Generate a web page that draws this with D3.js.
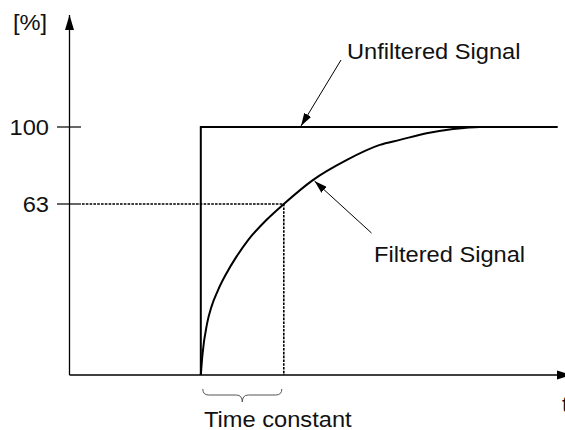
<!DOCTYPE html>
<html><head><meta charset="utf-8">
<script src="https://cdn.jsdelivr.net/npm/d3@7"></script>
<style>
html,body{margin:0;padding:0;background:#fff;}
svg{display:block;}
text{font-family:"Liberation Sans",Arial,sans-serif;fill:#111;}
</style></head>
<body>
<svg id="c" width="565" height="430"></svg>
<script>
// ---- data (time in units of the time constant, signal in %) ----
const unfilteredT = [0, 0, 4.3];
const unfilteredV = [0, 100, 100];
const filteredT = [0, 0.020, 0.076, 0.129, 0.208, 0.310, 0.430, 0.570, 0.79, 1.0, 1.35, 1.755, 2.157, 2.398, 2.72, 3.04, 3.36, 3.55];
const filteredV = [0, 7.5, 19.0, 25.2, 31.3, 37.5, 43.6, 49.7, 57.1, 63, 74.5, 84.1, 91.4, 93.8, 97.0, 99.0, 100, 100];
const yTickValues = [63, 100];
const yTickLabels = ["63", "100"];
const timeConstant = 1;
const labels = {yUnit: "[%]", xUnit: "t", unfiltered: "Unfiltered Signal", filtered: "Filtered Signal", tau: "Time constant"};

const svg = d3.select("#c");
const x = d3.scaleLinear().domain([-1.6, 4.4]).range([68, 566]);
const y = d3.scaleLinear().domain([0, 63, 100]).range([375, 204, 127]);
const SX = 1.1;
const FS = 21.5;

const defs = svg.append("defs");
defs.append("marker").attr("id","axArrow").attr("viewBox","0 0 15 10").attr("refX",15).attr("refY",5)
  .attr("markerWidth",15).attr("markerHeight",10).attr("markerUnits","userSpaceOnUse").attr("orient","auto")
  .append("path").attr("d","M0,0.5 L15,5 L0,9.5 Z").attr("fill","#000");
defs.append("marker").attr("id","thinArrow").attr("viewBox","0 0 13 8").attr("refX",13).attr("refY",4)
  .attr("markerWidth",13).attr("markerHeight",8).attr("markerUnits","userSpaceOnUse").attr("orient","auto")
  .append("path").attr("d","M0,0 L13,4 L0,8 Z").attr("fill","#000");

function txt(s, px, py, anchor) {
  return svg.append("text").text(s)
    .attr("transform", `translate(${px},${py}) scale(${SX},1)`)
    .attr("text-anchor", anchor || "start")
    .attr("font-size", FS);
}

// axes
svg.append("line").attr("x1", 69.5).attr("y1", y(0)).attr("x2", 69.5).attr("y2", 15)
  .attr("stroke","#000").attr("stroke-width",1.3).attr("marker-end","url(#axArrow)");
svg.append("line").attr("x1", 69.5).attr("y1", y(0)).attr("x2", 572).attr("y2", y(0))
  .attr("stroke","#000").attr("stroke-width",1.3).attr("marker-end","url(#axArrow)");

// y ticks and labels
svg.selectAll("line.tick").data(yTickValues).join("line").attr("class","tick")
  .attr("x1",57).attr("x2",81).attr("y1",d=>y(d)).attr("y2",d=>y(d))
  .attr("stroke","#000").attr("stroke-width",1.2);
yTickValues.forEach((v,i)=> txt(yTickLabels[i], 49, y(v)+7.5, "end"));
txt(labels.yUnit, 13, 29.5, "start");
txt(labels.xUnit, 562, 412, "start");

// dotted guides at time constant
svg.append("path")
  .attr("d", `M${82},${y(63)} H${x(timeConstant)} V${y(0)}`)
  .attr("fill","none").attr("stroke","#000").attr("stroke-width",1.6).attr("stroke-dasharray","2.6,1.2");

// unfiltered step
const line = d3.line().x(d=>x(d[0])).y(d=>y(d[1]));
svg.append("path").datum(unfilteredT.map((t,i)=>[t,unfilteredV[i]]))
  .attr("d", line).attr("fill","none").attr("stroke","#000").attr("stroke-width",2);

// filtered signal
const curveLine = d3.line().x(d=>x(d[0])).y(d=>y(d[1])).curve(d3.curveMonotoneX);
svg.append("path").datum(filteredT.map((t,i)=>[t,filteredV[i]]))
  .attr("d", curveLine).attr("fill","none").attr("stroke","#000").attr("stroke-width",2);

// annotations
svg.append("line").attr("x1",341).attr("y1",60).attr("x2",301).attr("y2",126)
  .attr("stroke","#000").attr("stroke-width",1).attr("marker-end","url(#thinArrow)");
txt(labels.unfiltered, 347, 58.5, "start");
svg.append("line").attr("x1",371.5).attr("y1",233).attr("x2",314.5).attr("y2",181)
  .attr("stroke","#000").attr("stroke-width",1).attr("marker-end","url(#thinArrow)");
txt(labels.filtered, 374, 262, "start");

// brace for time constant
const bx0 = x(0) + 2, bx1 = x(timeConstant) - 2, bm = (bx0 + bx1) / 2;
svg.append("path")
  .attr("d", `M${bx0},389 Q${bx0},395 ${bx0+6},395 L${bm-6},395 Q${bm},395 ${bm},402 Q${bm},395 ${bm+6},395 L${bx1-6},395 Q${bx1},395 ${bx1},389`)
  .attr("fill","none").attr("stroke","#555").attr("stroke-width",1);
txt(labels.tau, 204, 426.5, "start");
</script>
</body></html>
